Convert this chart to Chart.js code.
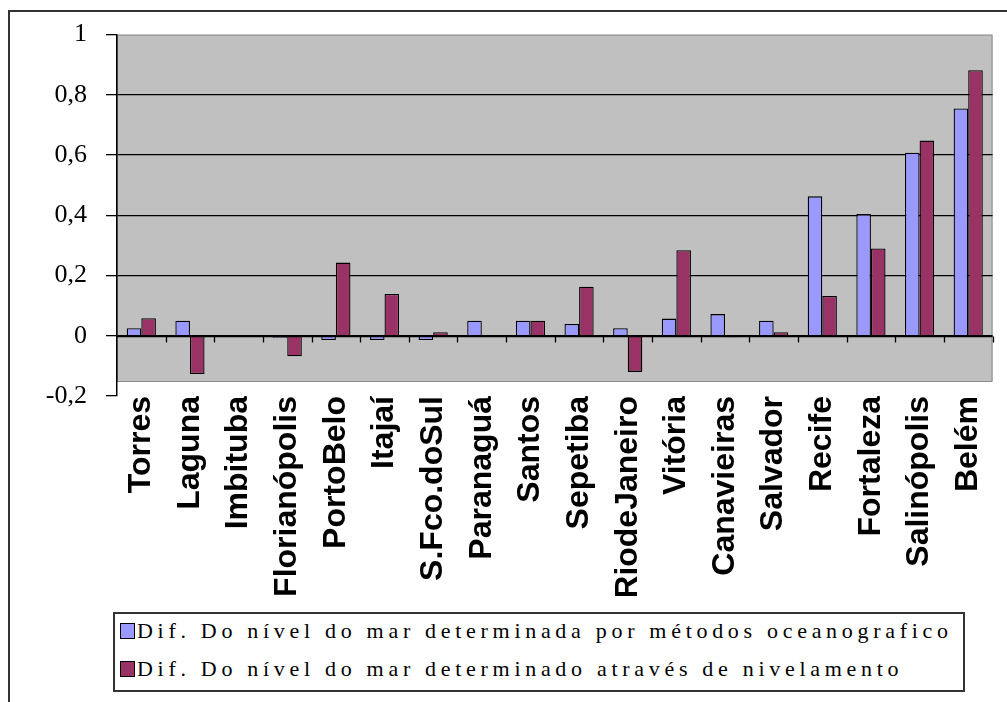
<!DOCTYPE html>
<html>
<head>
<meta charset="utf-8">
<script src="https://cdn.jsdelivr.net/npm/chart.js@4/dist/chart.umd.min.js"></script>
<style>
    body { margin: 0; background: #fff; }
    #wrap { position: relative; width: 1007px; height: 702px; overflow: hidden; }
    #frame { position: absolute; left: 8px; top: 10px; width: 1100px; height: 800px; border-left: 2px solid #333; border-top: 2px solid #333; }
    canvas { position: absolute; left: 0; top: 0; }
    #legend { position: absolute; left: 113px; top: 612px; width: 848px; height: 76px; border: 2px solid #333; background: #fff; }
    .item { position: absolute; left: 5px; font-family: "Liberation Serif", serif; font-size: 22px; letter-spacing: 4.7px; color: #000; white-space: nowrap; }
    .swatch { display: inline-block; width: 13px; height: 14px; border: 1px solid #000; margin-right: 2px; vertical-align: -1px; }
</style>
</head>
<body>
<div id="wrap">
    <div id="frame"></div>
    <canvas id="seaChart" width="1007" height="702"></canvas>
    <div id="legend"></div>
</div>
<script>
const stations = ['Torres', 'Laguna', 'Imbituba', 'Florianópolis', 'PortoBelo', 'Itajaí', 'S.Fco.doSul', 'Paranaguá', 'Santos',
    'Sepetiba', 'RiodeJaneiro', 'Vitória', 'Canavieiras', 'Salvador', 'Recife', 'Fortaleza', 'Salinópolis', 'Belém'];

const oceanographic = [0.025, 0.05, null, -0.007, -0.014, -0.014, -0.014, 0.05, 0.05,
    0.039, 0.025, 0.057, 0.072, 0.05, 0.463, 0.404, 0.608, 0.755];

const levelling = [0.058, -0.127, null, -0.068, 0.243, 0.139, 0.012, null, 0.05,
    0.163, -0.12, 0.284, -0.005, 0.012, 0.132, 0.29, 0.648, 0.882];

const seriesNames = [
    'Dif. Do nível do mar determinada por métodos oceanografico',
    'Dif. Do nível do mar determinado através de nivelamento'
];
const seriesColors = ['#9999FF', '#993366'];

const yTicks = [1, 0.8, 0.6, 0.4, 0.2, 0, -0.2];

function formatTick(value) {
    const v = Math.round(value * 10) / 10;
    if (v === 0 || v === 1) return String(v);
    return v.toFixed(1).replace('.', ',');
}

// grey plot area + small ticks on the zero line between categories
const plotBackground = {
    id: 'plotBackground',
    beforeDraw(chart) {
        const { ctx, chartArea } = chart;
        const h = chartArea.bottom - chartArea.top - 15;
        ctx.save();
        ctx.fillStyle = '#C0C0C0';
        ctx.fillRect(chartArea.left, chartArea.top, chartArea.right - chartArea.left, h);
        ctx.strokeStyle = '#8a8a8a';
        ctx.lineWidth = 1;
        ctx.strokeRect(chartArea.left + 0.5, chartArea.top + 0.5, chartArea.right - chartArea.left - 1, h);
        ctx.restore();
    },
    afterDatasetsDraw(chart) {
        const { ctx } = chart;
        const x = chart.scales.x;
        const y0 = Math.round(chart.scales.y.getPixelForValue(0)) + 0.5;
        const w = (x.right - x.left) / stations.length;
        ctx.save();
        ctx.strokeStyle = '#000';
        ctx.lineWidth = 1.3;
        ctx.beginPath();
        ctx.moveTo(x.left, y0);
        ctx.lineTo(x.right, y0);
        for (let i = 1; i <= stations.length; i++) {
            const px = Math.round(x.left + i * w) + 0.5;
            ctx.moveTo(px, y0);
            ctx.lineTo(px, y0 + 6);
        }
        ctx.stroke();
        ctx.restore();
    }
};

const ctx = document.querySelector('#seaChart').getContext('2d');

const seaChart = new Chart(ctx, {
    type: 'bar',
    data: {
        labels: stations,
        datasets: [{
            label: seriesNames[0],
            data: oceanographic,
            backgroundColor: seriesColors[0],
            borderColor: '#000',
            borderWidth: 1.3
        }, {
            label: seriesNames[1],
            data: levelling,
            backgroundColor: seriesColors[1],
            borderColor: '#000',
            borderWidth: 1.3
        }]
    },
    options: {
        responsive: false,
        animation: false,
        layout: {
            padding: { top: 33, left: 0, right: 14, bottom: 106 }
        },
        plugins: {
            legend: { display: false },
            tooltip: { enabled: false }
        },
        datasets: {
            bar: { categoryPercentage: 0.6, barPercentage: 1 }
        },
        scales: {
            x: {
                grid: { display: false, drawTicks: false },
                border: { display: false },
                afterFit(scale) { scale.height = 200; },
                ticks: {
                    autoSkip: false,
                    minRotation: 90,
                    maxRotation: 90,
                    padding: 0,
                    color: '#000',
                    font: { family: '"Liberation Sans", Arial, sans-serif', size: 32, weight: 'bold' }
                }
            },
            y: {
                min: -0.2,
                max: 1,
                afterBuildTicks(scale) { scale.ticks = yTicks.map(v => ({ value: v })); },
                afterFit(scale) { scale.width = 117; },
                grid: {
                    color: c => (c.tick && (c.tick.value >= 0.99 || c.tick.value <= -0.19)) ? 'rgba(0,0,0,0)' : '#000',
                    tickColor: '#000',
                    tickLength: 11,
                    lineWidth: 1.3
                },
                border: { display: true, color: '#000', width: 1.5 },
                ticks: {
                    padding: 19,
                    color: '#000',
                    callback: formatTick,
                    font: { family: '"Liberation Serif", "Times New Roman", serif', size: 26 }
                }
            }
        }
    },
    plugins: [plotBackground]
});

// legend box built from the chart's own datasets
const legend = document.querySelector('#legend');
seaChart.data.datasets.forEach((ds, i) => {
    const item = document.createElement('div');
    item.className = 'item';
    item.style.top = (i === 0 ? 4 : 42) + 'px';
    item.innerHTML = '<span class="swatch" style="background:' + ds.backgroundColor + '"></span>' + ds.label;
    legend.appendChild(item);
});
</script>
</body>
</html>
